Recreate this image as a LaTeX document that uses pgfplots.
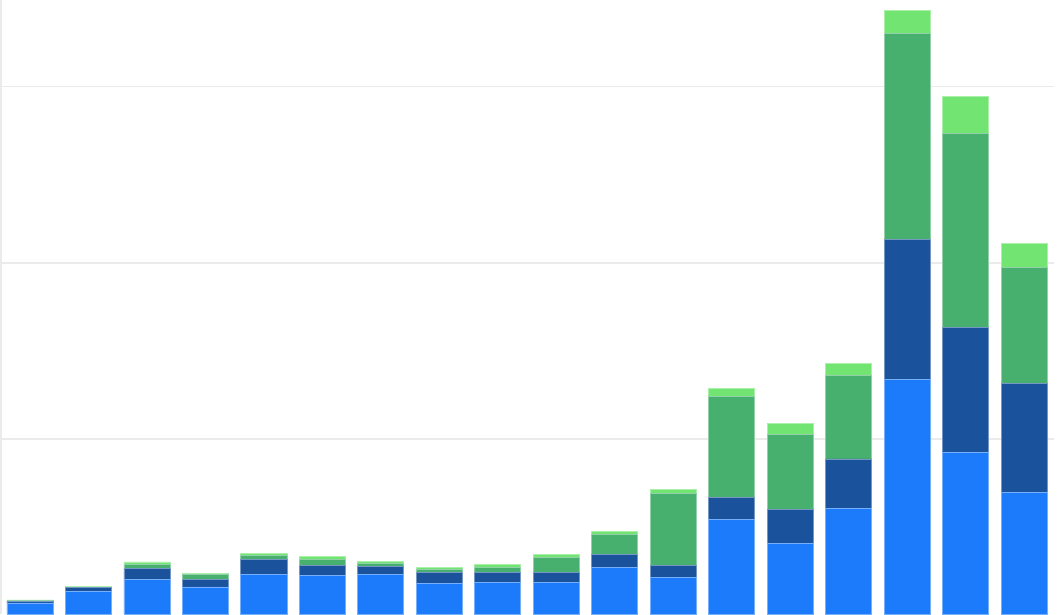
\documentclass[border=0pt]{standalone}
\usepackage{pgfplots}
\pgfplotsset{compat=1.18}
\usepackage{pgfplotstable}
\definecolor{cA}{HTML}{1B7BFA}
\definecolor{cB}{HTML}{1A529B}
\definecolor{cC}{HTML}{48B06E}
\definecolor{cD}{HTML}{72E472}
\definecolor{gridc}{HTML}{EBEBEB}
\pgfplotstableread{
x a b c d
0 0.71 0.10 0.03 0.04
1 1.37 0.20 0.04 0.06
2 2.07 0.585 0.23 0.15
3 1.62 0.40 0.32 0.06
4 2.34 0.83 0.23 0.14
5 2.28 0.58 0.34 0.17
6 2.34 0.43 0.18 0.10
7 1.83 0.60 0.17 0.14
8 1.88 0.545 0.32 0.17
9 1.88 0.545 0.89 0.17
10 2.73 0.715 1.13 0.21
11 2.17 0.66 4.07 0.23
12 5.47 1.25 5.69 0.48
13 4.10 1.91 4.25 0.61
14 6.08 2.80 4.72 0.72
15 13.41 7.90 11.72 1.31
16 9.27 7.05 11.03 2.08
17 6.99 6.16 6.60 1.36
}\datatable
\begin{document}
\begin{tikzpicture}
\begin{axis}[
  name=ax,
  at={(0pt,0pt)}, anchor=south west,
  scale only axis,
  width=1053pt, height=614pt,
  xmin=-0.496, xmax=17.513,
  ymin=0.085, ymax=34.91,
  ybar stacked,
  bar width=0.787,
  axis x line=none,
  axis y line*=left,
  y axis line style={draw=gridc, line width=2pt},
  ytick={10,20,30},
  yticklabels={},
  major tick length=0pt,
  ymajorgrids,
  grid style={draw=gridc, line width=1.5pt},
  clip=true,
]
\addplot[fill=cA, draw=cA!60!white, line width=0.8pt] table[x=x,y=a]{\datatable};
\addplot[fill=cB, draw=cB!60!white, line width=0.8pt] table[x=x,y=b]{\datatable};
\addplot[fill=cC, draw=cC!60!white, line width=0.8pt] table[x=x,y=c]{\datatable};
\addplot[fill=cD, draw=cD!60!white, line width=0.8pt] table[x=x,y=d]{\datatable};
\end{axis}
\pgfresetboundingbox
\path[use as bounding box] ([xshift=-1pt]ax.south west) rectangle ++(1061pt,614pt);
\end{tikzpicture}
\end{document}
